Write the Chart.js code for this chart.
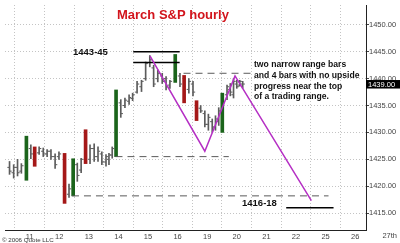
<!DOCTYPE html>
<html><head><meta charset="utf-8">
<style>html,body{margin:0;padding:0;background:#fff;}canvas{display:block;}</style>
<script src="https://cdn.jsdelivr.net/npm/chart.js@4"></script>
</head><body>
<canvas id="c" width="400" height="243"></canvas>
<script>
// ---- data ----
const dayLabels = ['11','12','13','14','15','16','19','20','21','22','25','26','27th'];
// bar times in "day" units (0 = first day gridline)
const barTime = [-0.68,-0.54,-0.41,-0.28,-0.11,0.04,0.17,0.32,0.46,0.59,0.72,0.86,0.99,
  1.18,1.33,1.47,1.61,1.74,1.89,2.04,2.18,2.31,2.44,2.58,2.68,2.79,2.92,
  3.08,3.22,3.36,3.48,3.63,3.78,3.92,4.06,4.19,4.33,4.48,4.61,4.74,4.92,
  5.08,5.22,5.38,5.52,5.64,5.78,5.92,6.04,6.17,6.28,6.39,6.51,6.67,6.78,6.89,7.0,7.1,7.2];
const barHigh = [1424.6,1424.0,1425.0,1424.2,1429.3,1427.7,1427.3,1427.3,1427.1,1426.8,1426.8,1426.0,1426.4,
  1426.1,1420.4,1425.1,1424.3,1425.2,1430.5,1427.7,1427.9,1427.3,1426.4,1425.9,1426.1,1427.3,1437.9,
  1436.1,1436.4,1437.0,1437.3,1439.5,1439.7,1443.1,1444.3,1442.5,1441.6,1441.0,1440.4,1439.7,1444.5,
  1441.0,1440.6,1440.0,1439.5,1435.9,1435.0,1434.0,1433.4,1432.5,1433.1,1434.6,1437.3,1438.8,1439.1,1440.0,1439.7,1439.7,1439.5];
const barLow = [1422.2,1421.5,1421.9,1422.4,1421.1,1425.1,1423.7,1425.9,1425.5,1425.5,1425.0,1423.3,1425.0,
  1416.8,1417.9,1418.2,1420.9,1422.5,1424.2,1424.2,1424.6,1424.6,1424.0,1423.7,1424.0,1425.2,1425.5,
  1432.8,1434.6,1435.2,1435.9,1437.3,1437.6,1439.7,1442.2,1438.5,1439.4,1439.1,1437.9,1438.2,1439.3,
  1438.5,1435.5,1437.3,1436.8,1432.2,1433.7,1431.0,1430.4,1430.0,1430.4,1431.3,1430.0,1436.1,1436.8,1436.4,1438.2,1438.6,1438.2];
const barOpen = [1423.5,1422.5,1423.5,1422.8,1421.5,1427.0,1427.0,1426.2,1426.5,1426.0,1426.5,1425.5,1425.5,
  1426.0,1418.5,1418.5,1424.0,1423.0,1430.2,1425.0,1427.0,1425.5,1426.0,1424.5,1425.0,1425.8,1425.8,
  1435.5,1435.0,1435.8,1436.3,1437.5,1438.5,1440.0,1443.0,1442.0,1440.0,1440.5,1440.0,1438.8,1439.5,
  1440.5,1440.2,1438.0,1439.0,1435.5,1434.5,1433.5,1431.5,1432.0,1431.0,1432.0,1430.5,1437.0,1438.0,1437.0,1439.0,1438.8,1439.0];
const barClose = [1422.8,1423.5,1422.5,1423.8,1429.0,1426.0,1424.0,1427.0,1426.0,1426.5,1425.5,1424.0,1426.0,
  1417.5,1419.5,1424.8,1422.0,1425.0,1424.5,1427.0,1425.5,1426.5,1424.5,1425.5,1425.8,1427.0,1437.5,
  1433.5,1436.0,1436.5,1437.0,1439.0,1439.5,1442.8,1443.5,1439.0,1441.0,1439.5,1438.5,1439.5,1444.0,
  1439.0,1436.0,1439.5,1437.5,1432.5,1434.0,1431.5,1432.8,1431.0,1432.5,1434.0,1437.0,1438.5,1437.5,1439.5,1438.5,1439.5,1439.0];
// g = wide-range up bar (green), r = wide-range down bar (red)
const barKind = ['','','','','g','','r','','','','','','',
  'r','','g','','','r','','','','','','','','g',
  '','','','','','','','','','','','','','g',
  '','r','','','r','','','','','','','g','','','','','',''];
const lastPrice = 1439.00;
const yTicks = [1415,1420,1425,1430,1435,1440,1445,1450];

// annotations
const zigTime = [4.07, 5.92, 6.94, 9.52];
const zigPrice = [1444.2, 1426.5, 1440.5, 1417.3];
const topLineTime = [3.5, 5.07];
const topLinePrices = [1445, 1443];
const targetTime = [8.67, 10.27];
const targetPrice = 1416;
const dashTimes = [[5.2, 7.57], [2.9, 6.73], [1.43, 10.1]];
const dashPrices = [1441, 1425.5, 1418.2];

// ---- build datasets ----
const GREEN = '#1b641b', RED = '#a51818', GRAY = '#5c5c5c';
function barsOf(kind){
  const out=[];
  barTime.forEach((t,i)=>{ if(barKind[i]===kind) out.push({x:t, y:[barLow[i], barHigh[i]]}); });
  return out;
}
const TICK_OFF = 0.04;
const openPts = barTime.map((t,i)=>({x:t-TICK_OFF, y:barOpen[i]})).filter((p,i)=>barKind[i]==='');
const closePts = barTime.map((t,i)=>({x:t+TICK_OFF, y:barClose[i]})).filter((p,i)=>barKind[i]==='');

function seg(x0,x1,y0,y1){return [{x:x0,y:y0},{x:x1,y:y1}];}
const lineBase = {type:'line', pointRadius:0, fill:false, tension:0};
const datasets = [
  {type:'bar', data:barsOf(''), backgroundColor:GRAY, barThickness:1, grouped:false, order:6},
  {type:'bar', data:barsOf('g'), backgroundColor:GREEN, barThickness:3, grouped:false, order:6},
  {type:'bar', data:barsOf('r'), backgroundColor:RED, barThickness:3, grouped:false, order:6},
  {type:'scatter', data:openPts, pointStyle:'line', radius:1, borderColor:GRAY, borderWidth:1, order:5},
  {type:'scatter', data:closePts, pointStyle:'line', radius:1, borderColor:GRAY, borderWidth:1, order:5},
];
dashTimes.forEach((tt,k)=>datasets.push(Object.assign({}, lineBase, {data:seg(tt[0],tt[1],dashPrices[k],dashPrices[k]), borderColor:'#5a5a5a', borderWidth:1, borderDash:[7,5], order:4})));
topLinePrices.forEach(p=>datasets.push(Object.assign({}, lineBase, {data:seg(topLineTime[0],topLineTime[1],p,p), borderColor:'#000', borderWidth:1.6, order:3})));
datasets.push(Object.assign({}, lineBase, {data:seg(targetTime[0],targetTime[1],targetPrice,targetPrice), borderColor:'#000', borderWidth:1.6, order:3}));
datasets.push(Object.assign({}, lineBase, {data:zigTime.map((t,i)=>({x:t,y:zigPrice[i]})), borderColor:'#b52fc4', borderWidth:1.5, order:1}));

const FONT = 'Arial, "Liberation Sans", sans-serif';
const textPlugin = {
  id:'texts',
  afterDraw(chart){
    const ctx = chart.ctx, xs = chart.scales.x, ys = chart.scales.y;
    ctx.save();
    // title
    ctx.fillStyle = '#d2141c';
    ctx.font = 'bold 13px ' + FONT;
    ctx.textBaseline = 'middle'; ctx.textAlign = 'left';
    ctx.fillText('March S&P hourly', 117, 15);
    // level labels
    ctx.fillStyle = '#111';
    ctx.font = 'bold 9.5px ' + FONT;
    ctx.fillText('1443-45', 73, 52);
    ctx.fillText('1416-18', 242, 203);
    // comment
    ctx.font = 'bold 8.6px ' + FONT;
    const lines = ['two narrow range bars','and 4 bars with no upside','progress near the top','of a trading range.'];
    lines.forEach((s,i)=>ctx.fillText(s, 254, 65 + i*10.6));
    // day label beyond the plot
    ctx.fillStyle = '#444';
    ctx.font = '7.5px ' + FONT;
    ctx.textAlign = 'center';
    ctx.fillText(dayLabels[12], xs.getPixelForValue(12) + 5, 236);
    // copyright
    ctx.textAlign = 'left';
    ctx.font = '6.2px ' + FONT;
    ctx.fillStyle = '#333';
    ctx.fillText('\u00A9 2006 Quote LLC', 2, 240);
    // last price box
    const py = ys.getPixelForValue(lastPrice);
    ctx.fillStyle = '#000';
    ctx.fillRect(xs.right, py - 4, 400 - xs.right, 8.5);
    ctx.fillStyle = '#fff';
    ctx.font = '7.5px ' + FONT;
    ctx.fillText(lastPrice.toFixed(2), xs.right + 2, py + 0.5);
    ctx.restore();
  }
};

new Chart(document.getElementById('c'), {
  type:'bar',
  data:{datasets},
  options:{
    responsive:false, animation:false, devicePixelRatio:1,
    layout:{padding:0},
    plugins:{legend:{display:false}, tooltip:{enabled:false}},
    scales:{
      x:{type:'linear', position:'bottom', min:-0.8333, max:11.3667, offset:false,
        afterBuildTicks(s){ s.ticks = dayLabels.slice(0,12).map((_,i)=>({value:i})); },
        afterFit(s){ s.height = 13; },
        grid:{color:'#c4c4c4', drawTicks:false},
        border:{color:'#222', width:1, dash:[1,2]},
        ticks:{autoSkip:false, maxRotation:0, padding:2, color:'#444', font:{size:7.5, family:FONT},
          callback:(v)=>dayLabels[Math.round(v)] }
      },
      y:{type:'linear', position:'right', min:1411.85, max:1453.7,
        afterBuildTicks(s){ s.ticks = yTicks.map(v=>({value:v})); },
        afterFit(s){ s.width = 34; },
        grid:{color:'#c4c4c4', tickLength:3, tickColor:'#444', tickBorderDash:[]},
        border:{color:'#222', width:1, dash:[1,2]},
        ticks:{padding:0, color:'#444', font:{size:7.5, family:FONT}, callback:(v)=>Number(v).toFixed(2)}
      }
    }
  },
  plugins:[textPlugin]
});
</script>
</body></html>
